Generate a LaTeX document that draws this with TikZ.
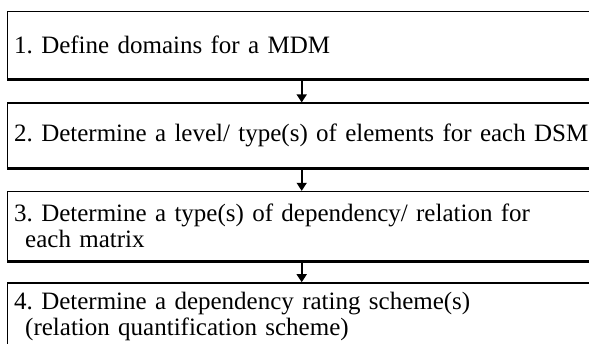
\documentclass[tikz,border=0pt]{standalone}
\usepackage{fontspec}
\setmainfont{Liberation Serif}
\usetikzlibrary{positioning,arrows.meta}

\tikzset{
    stepbox/.style={draw, line width=1.4pt, minimum width=588pt, text width=575pt,
        align=left, anchor=north west, inner xsep=5pt, font=\fontsize{25pt}{26pt}\selectfont},
    flowarrow/.style={line width=1.6pt, -{Triangle[width=10pt,length=8pt]}},
    boxbase/.style={line width=3.2pt}
}

\begin{document}
\frenchspacing
\begin{tikzpicture}[x=1pt,y=1pt]

    % Page frame
    \useasboundingbox (0,0) rectangle (589,-343);

    % Steps
    \node[stepbox, minimum height=67pt] (d1) at (7,-11) {1. Define domains for a MDM};
    \node[stepbox, minimum height=65pt, below=23pt of d1.south west, anchor=north west] (d2)
        {2. Determine a level/ type(s) of elements for each DSM};
    \node[stepbox, minimum height=69pt, below=22pt of d2.south west, anchor=north west] (d3)
        {3. Determine a type(s) of dependency/ relation for\\ \hspace*{11pt}each matrix};
    \node[stepbox, minimum height=67pt, below=21pt of d3.south west, anchor=north west] (d4)
        {4. Determine a dependency rating scheme(s)\\ \hspace*{11pt}(relation quantification scheme)};

    % Heavy bottom edges
    \foreach \b in {d1,d2,d3} {
        \draw[boxbase] (\b.south west) -- (\b.south east);
    }

    % Connectors
    \draw[flowarrow] (d1.south) -- (d2.north);
    \draw[flowarrow] (d2.south) -- (d3.north);
    \draw[flowarrow] (d3.south) -- (d4.north);

\end{tikzpicture}
\end{document}
